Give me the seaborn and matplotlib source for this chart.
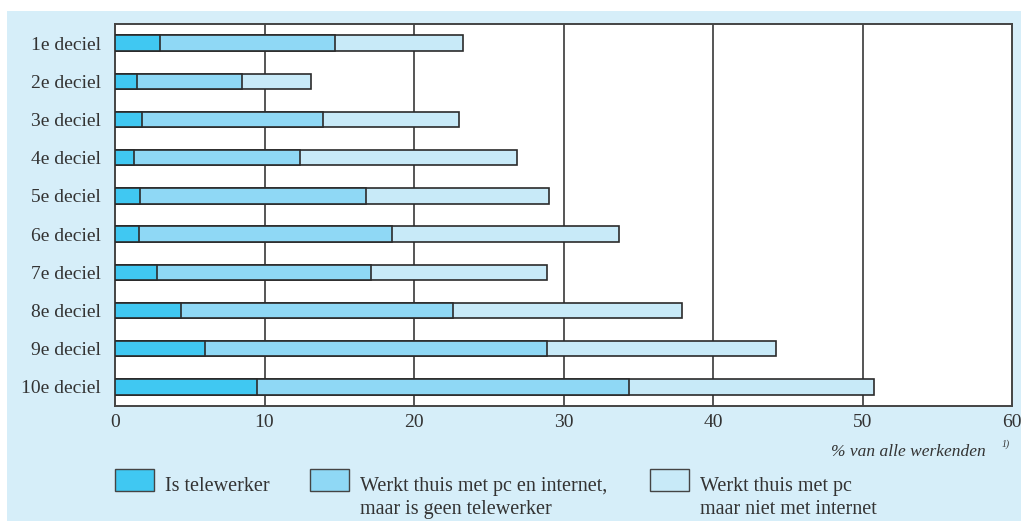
import matplotlib
matplotlib.use("Agg")
import matplotlib.pyplot as plt
from matplotlib.patches import Rectangle
import seaborn as sns
import pandas as pd
import numpy as np

deciles = ["1e deciel", "2e deciel", "3e deciel", "4e deciel", "5e deciel",
           "6e deciel", "7e deciel", "8e deciel", "9e deciel", "10e deciel"]
telewerker = [3.0, 1.5, 1.8, 1.3, 1.7, 1.6, 2.8, 4.4, 6.0, 9.5]
pc_internet = [11.7, 7.0, 12.1, 11.1, 15.1, 16.9, 14.3, 18.2, 22.9, 24.9]
pc_no_internet = [8.6, 4.6, 9.1, 14.5, 12.2, 15.2, 11.8, 15.3, 15.3, 16.4]
series_labels = ["Is telewerker",
                 "Werkt thuis met pc en internet,\nmaar is geen telewerker",
                 "Werkt thuis met pc\nmaar niet met internet"]
colors = ["#40c8f2", "#8fd8f5", "#c8eaf8"]
x_ticks = [0, 10, 20, 30, 40, 50, 60]

sns.set_theme(style="white")
plt.rcParams["font.family"] = ["Liberation Serif", "DejaVu Serif"]

df = pd.DataFrame({"deciel": deciles,
                   "s1": telewerker, "s2": pc_internet, "s3": pc_no_internet})
df["c1"] = df["s1"]
df["c2"] = df["s1"] + df["s2"]
df["c3"] = df["c2"] + df["s3"]

fig = plt.figure(figsize=(10.21, 5.21), dpi=100)
fig.patch.set_facecolor("white")
panel_bg = "#d6eef9"
fig.add_artist(Rectangle((7 / 1021, 0), 1 - 7 / 1021, 1 - 11 / 521,
                         transform=fig.transFigure, facecolor=panel_bg,
                         edgecolor="none", zorder=0))

ax = fig.add_axes([115 / 1021, 1 - 406 / 521, (1012 - 115) / 1021, (406 - 24) / 521])
ax.set_facecolor("white")

# Stacked bars drawn as overlapping cumulative totals
for col, color in zip(["c3", "c2", "c1"], colors[::-1]):
    sns.barplot(data=df, x=col, y="deciel", orient="h", color=color,
                width=0.4, edgecolor="#2b2b2b", linewidth=1.2,
                saturation=1, ax=ax, zorder=3)

ax.set_xlim(0, 60)
ax.set_ylim(9.5, -0.5)
ax.set_xticks(x_ticks)
ax.set_xticklabels([str(t) for t in x_ticks], fontsize=14, color="#333333")
ax.tick_params(axis="y", labelsize=14, labelcolor="#333333", length=0, pad=10)
ax.tick_params(axis="x", length=0, pad=6)
ax.set_xlabel("")
ax.set_ylabel("")
for t in x_ticks[1:-1]:
    ax.axvline(t, color="#555555", linewidth=1.4, zorder=1)
for s in ax.spines.values():
    s.set_color("#444444")
    s.set_linewidth(1.4)

fig.text(986 / 1021, 1 - 452 / 521, "% van alle werkenden", style="italic",
         fontsize=12.5, color="#333333", ha="right", va="center")
fig.text(1006 / 1021, 1 - 444 / 521, "1)", style="italic", fontsize=7,
         color="#333333", ha="center", va="center")

# Legend
patch_x = [115, 310, 650]
text_x = [165, 360, 700]
for px, tx, color, lab in zip(patch_x, text_x, colors, series_labels):
    fig.add_artist(Rectangle((px / 1021, 1 - 491 / 521), 39 / 1021, 22 / 521,
                             transform=fig.transFigure, facecolor=color,
                             edgecolor="#444444", linewidth=1.0))
    fig.text(tx / 1021, 1 - 477 / 521, lab, fontsize=14.5, color="#333333",
             ha="left", va="top", linespacing=1.3)

fig.savefig("out.png", dpi=100, facecolor=fig.get_facecolor())
